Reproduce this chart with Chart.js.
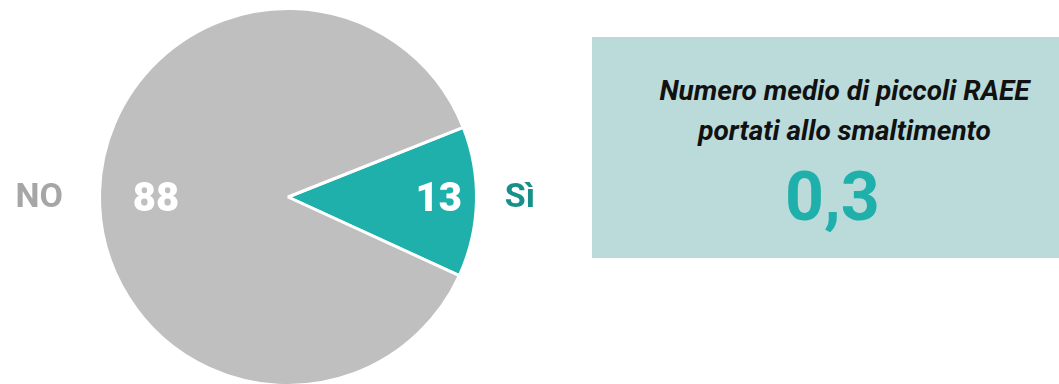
<!DOCTYPE html>
<html>
<head>
<meta charset="utf-8">
<script src="https://cdn.jsdelivr.net/npm/chart.js@4"></script>
<style>
  html, body { margin: 0; padding: 0; background: #fff; overflow: hidden; }
  body { width: 1059px; height: 384px; position: relative; font-family: Roboto, sans-serif; }
  #pieWrap { position: absolute; left: 0; top: 0; width: 576px; height: 394px; }
  #box {
    position: absolute; left: 592px; top: 37px; width: 467px; height: 221px;
    background: #badbda; text-align: center;
  }
  #box .title {
    position: absolute; left: 0; right: 0; top: 34px; padding-left: 38px;
    font: italic 700 28px/40px Roboto, sans-serif; color: #111;
  }
  #box .title span { display: block; }
  #box .value {
    position: absolute; left: 0; right: 0; top: 128px; padding-left: 14px;
    font: 700 68px/64px Roboto, sans-serif; color: #1fb0ac;
  }
</style>
</head>
<body>
<div id="pieWrap"><canvas id="pie"></canvas></div>
<div id="box">
  <div class="title"><span>Numero medio di piccoli RAEE</span><span>portati allo smaltimento</span></div>
  <div class="value">0,3</div>
</div>
<script>
const labels = ['Sì', 'NO'];
const values = [13, 88];
const colors = ['#1fb0ac', '#bfbfbf'];
const outerLabelColors = ['#17908b', '#a6a6a6'];

// value inside the slice, category name outside it (kept on the centre line)
const sliceLabels = {
  id: 'sliceLabels',
  afterDatasetsDraw(chart) {
    const ctx = chart.ctx;
    const arcs = chart.getDatasetMeta(0).data;
    ctx.save();
    ctx.textAlign = 'center';
    ctx.textBaseline = 'middle';
    arcs.forEach((arc, i) => {
      const { x, y, startAngle, endAngle, outerRadius } = arc.getProps(['x', 'y', 'startAngle', 'endAngle', 'outerRadius']);
      const mid = (startAngle + endAngle) / 2;
      const dir = Math.cos(mid) >= 0 ? 1 : -1;
      const inner = i === 0 ? 0.8 : 0.7;
      const outer = i === 0 ? 1.23 : 1.32;
      ctx.fillStyle = '#fff';
      ctx.font = '900 40px Roboto, sans-serif';
      ctx.fillText(String(values[i]), x + dir * outerRadius * inner, y + 4);
      ctx.fillStyle = outerLabelColors[i];
      ctx.font = '700 34px Roboto, sans-serif';
      ctx.fillText(labels[i], x + dir * outerRadius * outer, y + 1);
    });
    ctx.restore();
  }
};

new Chart(document.getElementById('pie'), {
  type: 'pie',
  data: {
    labels: labels,
    datasets: [{
      data: values,
      backgroundColor: colors,
      borderColor: '#fff',
      borderWidth: 3
    }]
  },
  options: {
    responsive: true,
    maintainAspectRatio: false,
    animation: false,
    rotation: 68.3,
    layout: { padding: 7 },
    plugins: { legend: { display: false }, tooltip: { enabled: false } }
  },
  plugins: [sliceLabels]
});
</script>
</body>
</html>
